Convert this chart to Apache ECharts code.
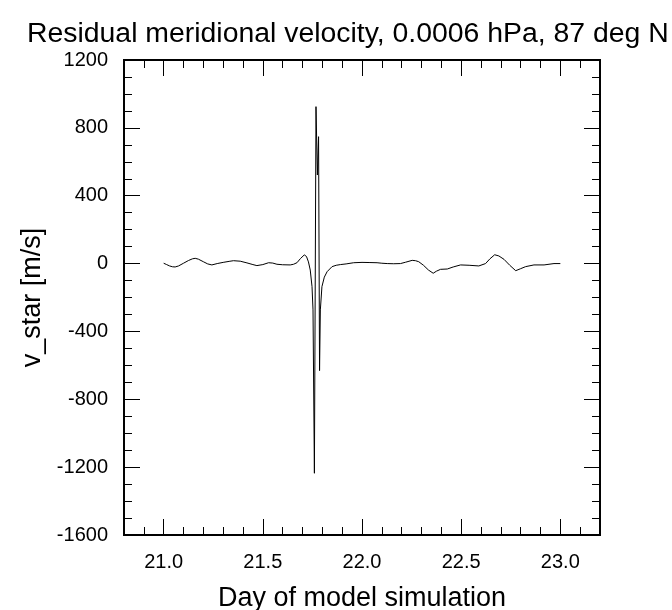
<!DOCTYPE html>
<html>
<head>
<meta charset="utf-8">
<script src="https://cdn.jsdelivr.net/npm/echarts@6/dist/echarts.min.js"></script>
<style>
  html, body { margin: 0; padding: 0; background: #fff; }
  #chart { width: 672px; height: 610px; }
</style>
</head>
<body>
<div id="chart"></div>
<script>
// Residual meridional velocity time series (day of simulation, m/s)
const days = [
  21.000, 21.015, 21.030, 21.045, 21.058, 21.075, 21.100, 21.125, 21.145, 21.159,
  21.175, 21.200, 21.222, 21.243, 21.270, 21.300, 21.330, 21.352, 21.386, 21.420,
  21.450, 21.470, 21.500, 21.529, 21.550, 21.571, 21.600, 21.638, 21.655, 21.672,
  21.690, 21.709, 21.720, 21.730, 21.739, 21.748, 21.753,
  21.760, 21.768, 21.775, 21.781, 21.786,
  21.790, 21.798, 21.810, 21.824, 21.849, 21.870, 21.891, 21.920, 21.958, 22.000,
  22.040, 22.076, 22.100, 22.127, 22.160, 22.194, 22.220, 22.253, 22.270, 22.286,
  22.310, 22.335, 22.359, 22.375, 22.396, 22.430, 22.460, 22.497, 22.540, 22.589,
  22.623, 22.645, 22.669, 22.690, 22.716, 22.745, 22.775, 22.800, 22.825, 22.867,
  22.918, 22.968, 23.000
];
const vStar = [
  2, -6, -14, -19, -20, -14, 2, 18, 28, 31,
  26, 11, -2, -8, 0, 7, 13, 17, 14, 4,
  -6, -12, -6, 5, 3, -4, -7, -8, -4, 5,
  30, 51, 42, 10, -38, -136, -273,
  -1236, 925, 522, 748, -631,
  -273, -136, -80, -48, -18, -10, -6, -2, 5, 7,
  6, 5, 2, 0, -1, 0, 8, 19, 17, 11,
  -10, -38, -57, -45, -34, -32, -20, -8, -10, -14,
  0, 28, 52, 45, 25, -10, -42, -30, -18, -8,
  -8, 0, 0
];

// Tick positions: labelled major ticks and unlabelled minor ticks
const xMajorTicks = [21.0, 21.5, 22.0, 22.5, 23.0];
const xMinorTicks = [20.9, 21.1, 21.2, 21.3, 21.4, 21.6, 21.7, 21.8, 21.9,
                     22.1, 22.2, 22.3, 22.4, 22.6, 22.7, 22.8, 22.9, 23.1];
const yMajorTicks = [-1600, -1200, -800, -400, 0, 400, 800, 1200];
const yMinorTicks = [-1500, -1400, -1300, -1100, -1000, -900, -700, -600, -500,
                     -300, -200, -100, 100, 200, 300, 500, 600, 700, 900, 1000, 1100];

const titleText = 'Residual meridional velocity, 0.0006 hPa, 87 deg N';
const xName = 'Day of model simulation';
const yName = 'v_star [m/s]';
const xMin = 20.8, xMax = 23.2;
const yMin = -1600, yMax = 1200;

const FONT = 'Liberation Sans, Arial, Helvetica, sans-serif';

function xAxisDef(position, major, withLabels) {
  return {
    type: 'value', position, min: xMin, max: xMax,
    axisLine: { show: true, onZero: false, lineStyle: { color: '#000', width: 1.8 } },
    splitLine: { show: false },
    axisTick: {
      show: true, inside: true, length: major ? 16 : 8,
      customValues: major ? xMajorTicks : xMinorTicks,
      lineStyle: { color: '#000', width: 1 }
    },
    axisLabel: withLabels ? {
      show: true, color: '#000', fontFamily: FONT, fontSize: 20, margin: 17,
      customValues: xMajorTicks,
      formatter: v => Number(v).toFixed(1)
    } : { show: false },
    name: withLabels ? xName : '',
    nameLocation: 'middle', nameGap: 50,
    nameTextStyle: { color: '#000', fontFamily: FONT, fontSize: 27 }
  };
}

function yAxisDef(position, major, withLabels) {
  return {
    type: 'value', position, min: yMin, max: yMax,
    axisLine: { show: true, onZero: false, lineStyle: { color: '#000', width: 1.8 } },
    splitLine: { show: false },
    axisTick: {
      show: true, inside: true, length: major ? 16 : 8,
      customValues: major ? yMajorTicks : yMinorTicks,
      lineStyle: { color: '#000', width: 1 }
    },
    axisLabel: withLabels ? {
      show: true, color: '#000', fontFamily: FONT, fontSize: 20, margin: 16,
      customValues: yMajorTicks,
      formatter: v => String(Math.round(v))
    } : { show: false },
    name: withLabels ? yName : '',
    nameLocation: 'middle', nameGap: 72, nameRotate: 90,
    nameTextStyle: { color: '#000', fontFamily: FONT, fontSize: 27 }
  };
}

const chart = echarts.init(document.getElementById('chart'), null, { renderer: 'canvas' });
chart.setOption({
  animation: false,
  backgroundColor: '#fff',
  title: {
    text: titleText, left: 27, top: 20, padding: 0,
    textStyle: { color: '#000', fontFamily: FONT, fontSize: 28.4, fontWeight: 'normal' }
  },
  grid: {
    left: 124, top: 60, width: 476, height: 475,
    containLabel: false, outerBoundsMode: 'none'
  },
  xAxis: [
    xAxisDef('bottom', false, true),
    xAxisDef('bottom', true, false),
    xAxisDef('top', false, false),
    xAxisDef('top', true, false)
  ],
  yAxis: [
    yAxisDef('left', false, true),
    yAxisDef('left', true, false),
    yAxisDef('right', false, false),
    yAxisDef('right', true, false)
  ],
  series: [{
    type: 'line',
    xAxisIndex: 0, yAxisIndex: 0,
    data: days.map((d, i) => [d, vStar[i]]),
    showSymbol: false,
    smooth: false,
    lineStyle: { color: '#000', width: 1 }
  }]
});
</script>
</body>
</html>
